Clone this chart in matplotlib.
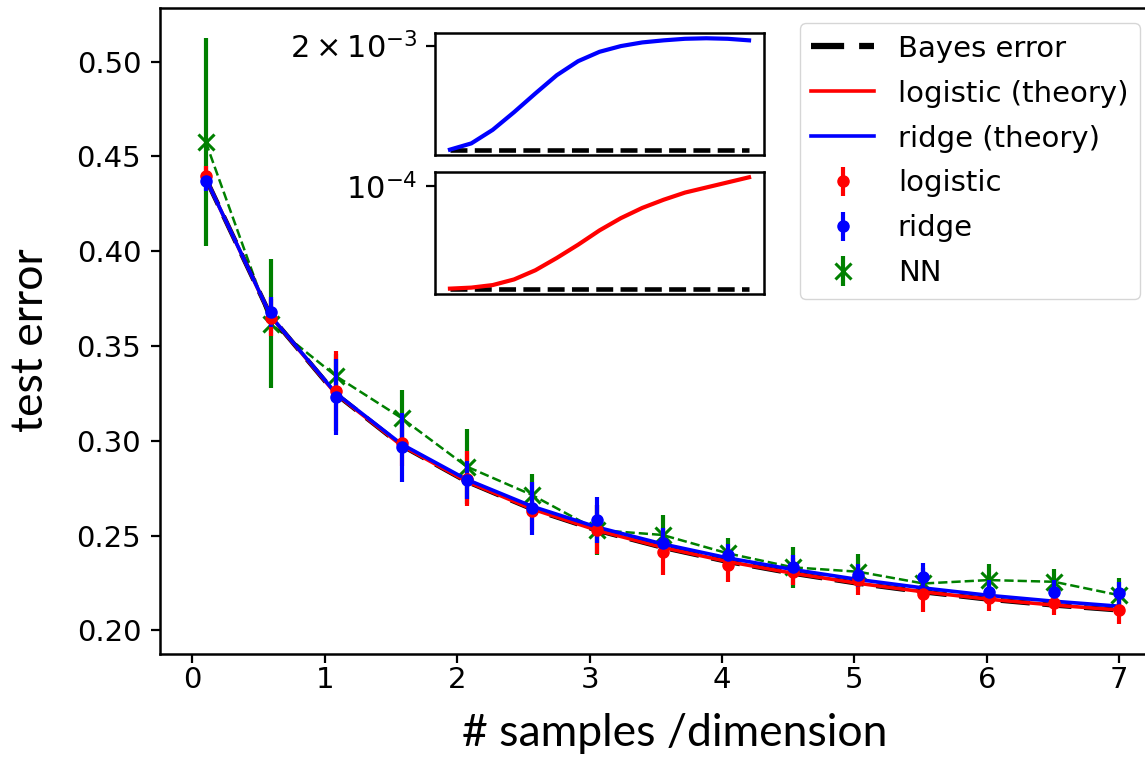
import matplotlib
matplotlib.use("Agg")
import matplotlib.pyplot as plt

# samples per dimension
alpha = [0.1, 0.593, 1.086, 1.579, 2.071, 2.564, 3.057, 3.55,
         4.043, 4.536, 5.029, 5.521, 6.014, 6.507, 7.0]

# theory curves
bayes = [0.4385, 0.3655, 0.3245, 0.2975, 0.2785, 0.2640, 0.2527, 0.2437,
         0.2362, 0.2300, 0.2247, 0.2202, 0.2163, 0.2132, 0.2106]
logistic_theory = [0.43850, 0.36550, 0.32450, 0.29751, 0.27852, 0.26403, 0.25274, 0.24376,
                   0.23627, 0.23008, 0.22479, 0.22029, 0.21640, 0.21330, 0.21071]
ridge_theory = [0.43850, 0.36562, 0.32488, 0.29822, 0.27958, 0.26543, 0.25440, 0.24558,
                0.23819, 0.23206, 0.22680, 0.22233, 0.21844, 0.21533, 0.21270]

# simulations (mean, std)
logistic_sim = [0.4398, 0.3650, 0.3261, 0.2988, 0.2800, 0.2630, 0.2530, 0.2414,
                0.2344, 0.2309, 0.2265, 0.2194, 0.2173, 0.2144, 0.2106]
logistic_err = [0.005, 0.010, 0.021, 0.012, 0.0145, 0.010, 0.013, 0.0123,
                0.009, 0.007, 0.008, 0.0097, 0.007, 0.0065, 0.0074]
ridge_sim = [0.4370, 0.3679, 0.3231, 0.2965, 0.2794, 0.2644, 0.2582, 0.2459,
             0.2397, 0.2335, 0.2291, 0.2279, 0.2203, 0.2203, 0.2196]
ridge_err = [0.005, 0.008, 0.020, 0.018, 0.010, 0.014, 0.0123, 0.008,
             0.006, 0.006, 0.006, 0.0077, 0.006, 0.006, 0.006]
nn_sim = [0.4577, 0.3617, 0.3340, 0.3120, 0.2864, 0.2714, 0.2529, 0.2503,
          0.2406, 0.2332, 0.2309, 0.2247, 0.2265, 0.2256, 0.2185]
nn_err = [0.055, 0.034, 0.012, 0.015, 0.020, 0.011, 0.013, 0.0105,
          0.008, 0.011, 0.0093, 0.008, 0.0083, 0.007, 0.009]

# insets: excess error over Bayes
bayes_gap = [0.0] * 15
ridge_gap = [0.0, 0.12e-3, 0.38e-3, 0.72e-3, 1.08e-3, 1.43e-3, 1.70e-3, 1.88e-3,
             1.99e-3, 2.06e-3, 2.10e-3, 2.13e-3, 2.14e-3, 2.13e-3, 2.10e-3]
logistic_gap = [0.0, 0.01e-4, 0.035e-4, 0.09e-4, 0.18e-4, 0.30e-4, 0.43e-4, 0.57e-4,
                0.69e-4, 0.79e-4, 0.87e-4, 0.94e-4, 0.99e-4, 1.04e-4, 1.09e-4]

W, H = 1145, 774
fig = plt.figure(figsize=(W / 100, H / 100), dpi=100)
ax = fig.add_axes([160 / W, 1 - 654 / H, 1005 / W, 646 / H])

l_bayes, = ax.plot(alpha, bayes, color="k", ls="--", dashes=(6, 2.6), lw=3.5, label="Bayes error")
l_log, = ax.plot(alpha, logistic_theory, color="r", lw=2.6, label="logistic (theory)")
l_ridge, = ax.plot(alpha, ridge_theory, color="b", lw=2.6, label="ridge (theory)")

ax.plot(alpha, nn_sim, color="g", ls="--", lw=1.8, zorder=1.5)
e_nn = ax.errorbar(alpha, nn_sim, yerr=nn_err, color="g", ls="none",
                   marker="x", ms=11, mew=2.2, elinewidth=3, label="NN", zorder=1.6)
e_log = ax.errorbar(alpha, logistic_sim, yerr=logistic_err, color="r", ls="none",
                    marker="o", ms=8, elinewidth=3, label="logistic")
e_ridge = ax.errorbar(alpha, ridge_sim, yerr=ridge_err, color="b", ls="none",
                      marker="o", ms=8, elinewidth=3, label="ridge")

ax.set_xlim(-0.245, 7.345)
ax.set_ylim(0.1875, 0.5283)
ax.set_xticks(range(8))
ax.set_yticks([0.20, 0.25, 0.30, 0.35, 0.40, 0.45, 0.50])
ax.set_yticklabels(["0.20", "0.25", "0.30", "0.35", "0.40", "0.45", "0.50"])
ax.tick_params(labelsize=21, width=1.6, length=6.5)
ax.tick_params(axis="x", pad=2.5)
ax.tick_params(axis="y", pad=7)
for s in ax.spines.values():
    s.set_linewidth(1.8)

leg = ax.legend([l_bayes, l_log, l_ridge, e_log, e_ridge, e_nn],
                ["Bayes error", "logistic (theory)", "ridge (theory)", "logistic", "ridge", "NN"],
                loc="upper right", bbox_to_anchor=(1140 / W, 1 - 23 / H),
                bbox_transform=fig.transFigure, borderaxespad=0,
                fontsize=21, labelspacing=0.58, handlelength=2.16, handletextpad=0.8)
leg.get_lines()[0].set_linewidth(4.5)
leg.get_lines()[0].set_dashes((5.3, 2.4))

fig.text(675 / W, 1 - 733 / H, "# samples /dimension", family="Lato",
         fontsize=32, ha="center", va="center")
fig.text(31 / W, 1 - 340 / H, "test error", family="Lato", fontsize=32,
         rotation=90, ha="center", va="center")

# insets
for k, (gap, col, lab) in enumerate([(ridge_gap, "b", r"$2\times10^{-3}$"),
                                      (logistic_gap, "r", r"$10^{-4}$")]):
    top = 32.7 if k == 0 else 171.7
    ins = fig.add_axes([435 / W, 1 - (top + 122.5) / H, 329 / W, 122.5 / H])
    ins.plot(alpha, bayes_gap, color="k", ls="--", lw=3.3)
    ins.plot(alpha, gap, color=col, lw=3)
    ins.set_xticks([])
    ins.set_yticks([2e-3] if k == 0 else [1e-4])
    ins.set_yticklabels([lab])
    ins.tick_params(labelsize=22, width=1.6, length=6.5, pad=6)
    for s in ins.spines.values():
        s.set_linewidth(1.8)

fig.savefig("out.png", dpi=100)
